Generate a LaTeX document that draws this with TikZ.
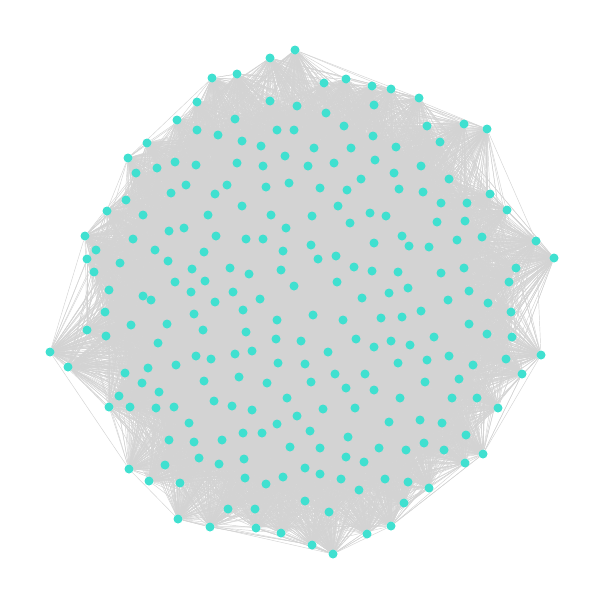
\documentclass[tikz,border=0pt]{standalone}
\pgfdeclarelayer{background}
\pgfsetlayers{background,main}
\begin{document}
\begin{tikzpicture}[x=1pt, y=-1pt]
    % Define colours
    \definecolor{nodeColour}{RGB}{64,224,208}
    \definecolor{edgeColour}{RGB}{211,211,211}

    % Define styles
    \tikzset{
        vertex/.style={circle, fill=nodeColour, draw=none, inner sep=0pt, minimum size=9pt},
        edge/.style={draw=edgeColour, line width=0.45pt}
    }

    % Define number of vertices and edges per vertex
    \def\numVertices{256}
    \def\edgesPerVertex{60}

    % Fix the page size
    \useasboundingbox (0,0) rectangle (605,605);

    % Draw vertices
    \foreach [count=\n] \x/\y in {
        212/78, 197/102, 177/120, 197/130, 218/135, 147/143, 128/158, 136/173,
        157/168, 175/162, 196/165, 186/185, 227/185, 171/193, 215/194, 126/200,
        107/211, 143/215, 208/215, 184/228, 169/231, 295/50, 270/58, 237/74,
        324/83, 346/79, 372/86, 391/89, 270/101, 297/106, 326/113, 374/105,
        235/119, 277/130, 294/130, 344/126, 373/136, 242/141, 261/146, 314/148,
        351/148, 396/147, 285/156, 237/163, 263/166, 308/166, 334/163, 375/160,
        361/179, 394/173, 266/187, 289/183, 320/188, 347/190, 399/189, 242/206,
        271/215, 312/216, 338/206, 370/213, 386/216, 286/228, 350/223, 419/98,
        427/126, 464/124, 487/129, 440/142, 421/166, 449/179, 423/192, 441/203,
        467/203, 490/194, 507/210, 437/222, 465/221, 85/236, 96/250, 87/259,
        94/272, 133/239, 120/263, 155/250, 168/261, 204/252, 216/236, 192/269,
        175/282, 205/281, 230/268, 109/290, 143/296, 151/300, 191/292, 215/302,
        105/312, 194/314, 131/325, 167/324, 203/330, 87/330, 106/336, 158/343,
        50/352, 68/367, 196/356, 211/359, 176/365, 148/368, 125/373, 142/383,
        204/381, 119/396, 159/392, 214/401, 109/407, 130/407, 156/408, 174/407,
        232/406, 246/239, 263/239, 311/245, 283/251, 402/236, 409/246, 374/243,
        318/259, 336/256, 249/274, 281/270, 354/267, 372/271, 398/272, 337/282,
        294/286, 233/292, 260/299, 362/298, 389/293, 408/288, 243/310, 277/320,
        313/315, 343/320, 381/318, 402/317, 246/332, 276/339, 301/341, 356/339,
        374/347, 391/341, 410/345, 235/354, 252/351, 328/352, 278/363, 305/364,
        398/363, 239/377, 267/383, 311/382, 335/374, 365/374, 346/388, 374/390,
        287/398, 252/410, 323/409, 355/408, 400/398, 429/247, 457/240, 482/237,
        536/241, 554/258, 516/268, 509/282, 464/268, 441/273, 448/300, 469/291,
        488/303, 421/311, 511/312, 469/324, 487/334, 512/337, 434/337, 541/355,
        449/356, 427/360, 473/365, 506/359, 522/374, 459/379, 425/382, 452/398,
        477/398, 498/408, 189/423, 169/440, 194/442, 222/440, 199/458, 219/464,
        165/465, 129/469, 149/481, 180/483, 228/509, 178/519, 210/527, 297/416,
        277/424, 389/422, 243/433, 262/433, 310/431, 348/437, 290/447, 320/448,
        379/448, 406/450, 244/459, 346/457, 364/462, 305/468, 245/478, 266/484,
        283/477, 320/474, 341/479, 385/479, 408/482, 359/490, 305/501, 255/509,
        329/512, 404/503, 256/528, 281/533, 312/545, 333/554, 367/534, 391/526,
        420/420, 442/423, 466/435, 424/443, 444/450, 483/454, 465/463, 429/488}
        \node[vertex] (v\n) at (\x,\y) {};

    % Draw random edges behind the vertices
    \pgfmathsetseed{2718}
    \begin{pgfonlayer}{background}
        \foreach \i in {1,...,\numVertices}
            \foreach \k in {1,...,\edgesPerVertex} {
                \pgfmathrandominteger{\j}{1}{\numVertices}
                \ifnum\i=\j\else
                    \draw[edge] (v\i) -- (v\j);
                \fi
            }
    \end{pgfonlayer}

\end{tikzpicture}
\end{document}
